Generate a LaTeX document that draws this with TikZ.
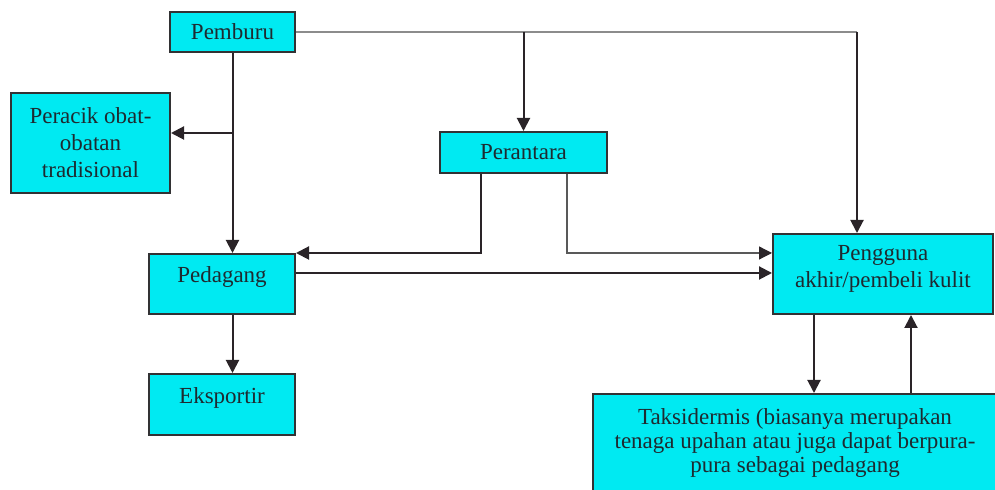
\documentclass[tikz,border=0pt]{standalone}
\usepackage{fontspec}
\setmainfont{Liberation Serif}
\usetikzlibrary{arrows.meta,calc,positioning}
\definecolor{boxcyan}{RGB}{0,234,242}
\definecolor{boxline}{RGB}{50,50,52}
\definecolor{flowdark}{RGB}{42,36,40}
\definecolor{labeltext}{RGB}{30,42,48}

\begin{document}
\begin{tikzpicture}[x=0.5pt,y=-0.5pt,
  actor/.style={draw=boxline,fill=boxcyan,line width=1pt,inner sep=0pt,align=center,
    text=labeltext,font=\fontsize{11.5}{13.5}\selectfont},
  flow/.style={draw=flowdark,line width=1pt,-{Triangle[length=6.5pt,width=6.5pt]}},
  thinflow/.style={draw=gray!70!black,line width=0.6pt}]
  \useasboundingbox (0,0) rectangle (995,490);
  % boxes
  \node[actor,minimum width=62.5pt,minimum height=20pt] (pemburu) at (232.5,32) {Pemburu};
  \node[actor,minimum width=79.5pt,minimum height=50pt] (peracik) at (90.5,143) {Peracik obat-\\obatan\\tradisional};
  \node[actor,minimum width=83.5pt,minimum height=20.5pt] (perantara) at (523.5,152.5) {Perantara};
  \node[actor,minimum width=73pt,minimum height=30pt,text height=8pt,text depth=9.5pt] (pedagang) at (222,284) {Pedagang};
  \node[actor,minimum width=73pt,minimum height=30.5pt,text height=8pt,text depth=9pt] (eksportir) at (222,404.5) {Eksportir};
  \node[actor,minimum width=110pt,minimum height=40pt,text depth=7.5pt] (pengguna) at (883,274) {Pengguna\\akhir/pembeli kulit};
  \node[actor,minimum width=202pt,minimum height=49pt,font=\fontsize{11.5}{12}\selectfont] (taksidermis) at (795,443)
    {Taksidermis (biasanya merupakan\\tenaga upahan atau juga dapat berpura-\\pura sebagai pedagang};
  % connectors
  \coordinate (toPeracik) at ($(peracik.east)+(0,-10)$);
  \coordinate (topTurn) at (857,32);
  \coordinate (tradeOut) at ($(pedagang.east)+(0,-11)$);
  \coordinate (taxIn) at ($(pengguna.south west)+(42,0)$);
  \coordinate (taxOut) at ($(pengguna.south west)+(139,0)$);
  \draw[flow] (pemburu.south) -- (pemburu.south |- pedagang.north);
  \draw[flow] (pemburu.south |- toPeracik) -- (toPeracik);
  \draw[thinflow,gray!90] (pemburu.east) -- (topTurn);
  \draw[flow] (topTurn) -- (topTurn |- pengguna.north);
  \draw[flow] (perantara.north |- pemburu.east) -- (perantara.north);
  \draw[flow] ($(perantara.south west)+(42,0)$) |- (pedagang.north east);
  \draw[thinflow,-{Triangle[length=6.5pt,width=6.5pt,color=flowdark]}] ($(perantara.south east)+(-41,0)$) |- ($(pengguna.west)+(0,-21)$);
  \draw[flow] (tradeOut) -- (tradeOut -| pengguna.west);
  \draw[flow] (pemburu.south |- pedagang.south) -- (pemburu.south |- eksportir.north);
  \draw[flow] (taxIn) -- (taxIn |- taksidermis.north);
  \draw[flow] (taxOut |- taksidermis.north) -- (taxOut);
\end{tikzpicture}
\end{document}
